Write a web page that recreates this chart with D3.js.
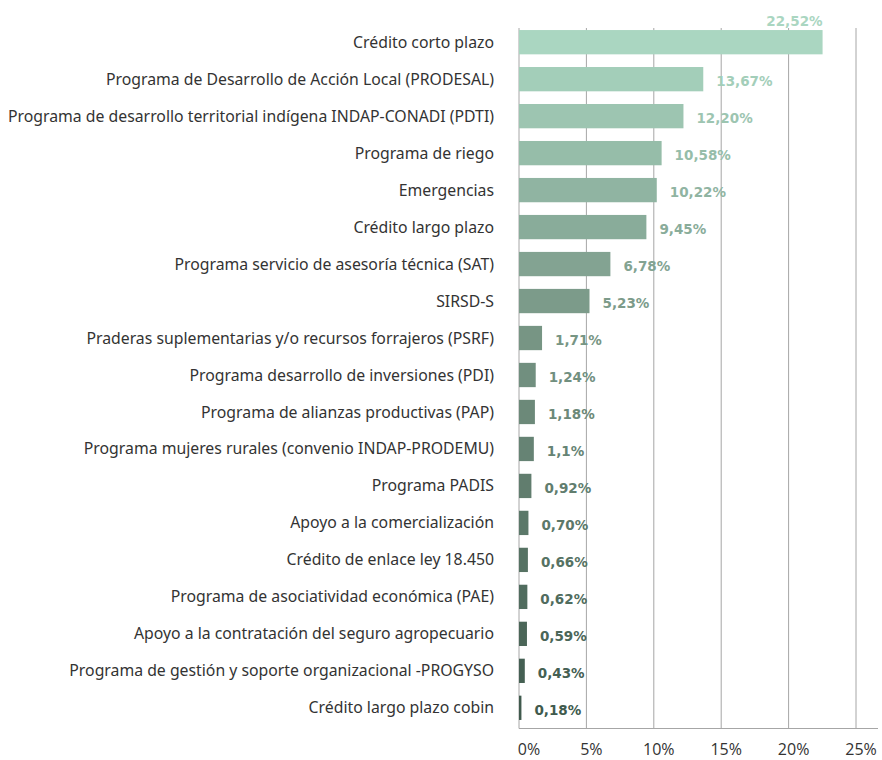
<!DOCTYPE html>
<html>
<head>
<meta charset="utf-8">
<script src="https://cdn.jsdelivr.net/npm/d3@7"></script>
<style>
  body { margin: 0; background: #fff; }
  svg { display: block; }
</style>
</head>
<body>
<div id="chart"></div>
<script>
const categories = [
    "Crédito corto plazo",
    "Programa de Desarrollo de Acción Local (PRODESAL)",
    "Programa de desarrollo territorial indígena INDAP-CONADI (PDTI)",
    "Programa de riego",
    "Emergencias",
    "Crédito largo plazo",
    "Programa servicio de asesoría técnica (SAT)",
    "SIRSD-S",
    "Praderas suplementarias y/o recursos forrajeros (PSRF)",
    "Programa desarrollo de inversiones (PDI)",
    "Programa de alianzas productivas (PAP)",
    "Programa mujeres rurales (convenio INDAP-PRODEMU)",
    "Programa PADIS",
    "Apoyo a la comercialización",
    "Crédito de enlace ley 18.450",
    "Programa de asociatividad económica (PAE)",
    "Apoyo a la contratación del seguro agropecuario",
    "Programa de gestión y soporte organizacional -PROGYSO",
    "Crédito largo plazo cobin"
];
const values = [22.52, 13.67, 12.20, 10.58, 10.22, 9.45, 6.78, 5.23, 1.71, 1.24, 1.18, 1.1, 0.92, 0.70, 0.66, 0.62, 0.59, 0.43, 0.18];
const valueLabels = ["22,52%", "13,67%", "12,20%", "10,58%", "10,22%", "9,45%", "6,78%", "5,23%", "1,71%", "1,24%", "1,18%", "1,1%", "0,92%", "0,70%", "0,66%", "0,62%", "0,59%", "0,43%", "0,18%"];
const ticks = [0, 5, 10, 15, 20, 25];

const width = 882, height = 760;
const x0 = 519, x1 = 856, plotTop = 28, plotBottom = 728.5;

const data = categories.map((c, i) => ({ name: c, value: values[i], label: valueLabels[i], i }));

const svg = d3.select("#chart")
    .append("svg")
    .attr("width", width)
    .attr("height", height);

const x = d3.scaleLinear()
    .domain([0, 25])
    .range([x0, x1]);

const y = d3.scaleBand()
    .domain(categories)
    .range([23.7, 726.3])
    .paddingInner(0.343)
    .paddingOuter(0.1715);

const color = d3.scaleLinear()
    .domain([0, 7, 18])
    .range(["#aad6c1", "#7c9b8a", "#405a4d"]);

// gridlines
svg.append("g")
    .selectAll("line")
    .data(ticks.slice(1))
    .join("line")
    .attr("x1", d => x(d))
    .attr("x2", d => x(d))
    .attr("y1", plotTop)
    .attr("y2", plotBottom)
    .attr("stroke", "#a6a6a6")
    .attr("stroke-width", 1);

// axes lines
svg.append("line")
    .attr("x1", x0).attr("x2", x0)
    .attr("y1", plotTop).attr("y2", plotBottom)
    .attr("stroke", "#a6a6a6");
svg.append("line")
    .attr("x1", x0).attr("x2", 878)
    .attr("y1", plotBottom).attr("y2", plotBottom)
    .attr("stroke", "#a6a6a6");

// tick labels
svg.append("g")
    .selectAll("text")
    .data(ticks)
    .join("text")
    .attr("x", d => x(d) + (d === 0 ? 10 : 5))
    .attr("y", 755)
    .attr("text-anchor", "middle")
    .style("font-family", "'Open Sans', sans-serif")
    .style("font-size", "16px")
    .style("fill", "#333")
    .text(d => d + "%");

// bars
svg.append("g")
    .selectAll("rect")
    .data(data)
    .join("rect")
    .attr("x", x(0))
    .attr("y", d => y(d.name))
    .attr("width", d => x(d.value) - x(0))
    .attr("height", y.bandwidth())
    .attr("fill", d => color(d.i));

// category labels
svg.append("g")
    .selectAll("text")
    .data(data)
    .join("text")
    .attr("x", 494)
    .attr("y", d => y(d.name) + y.bandwidth() / 2)
    .attr("dy", "0.35em")
    .attr("text-anchor", "end")
    .style("font-family", "'Noto Sans', sans-serif")
    .style("font-size", "15.8px")
    .style("fill", "#333")
    .text(d => d.name);

// value labels
svg.append("g")
    .selectAll("text")
    .data(data)
    .join("text")
    .attr("x", d => d.i === 0 ? x(d.value) : x(d.value) + 13)
    .attr("y", d => d.i === 0 ? y(d.name) - 9 : y(d.name) + y.bandwidth() / 2 + 2)
    .attr("dy", "0.35em")
    .attr("text-anchor", d => d.i === 0 ? "end" : "start")
    .style("font-family", "'DejaVu Sans', Verdana, sans-serif")
    .style("font-size", "13.5px")
    .style("font-weight", "bold")
    .style("fill", d => color(d.i))
    .text(d => d.label);
</script>
</body>
</html>
